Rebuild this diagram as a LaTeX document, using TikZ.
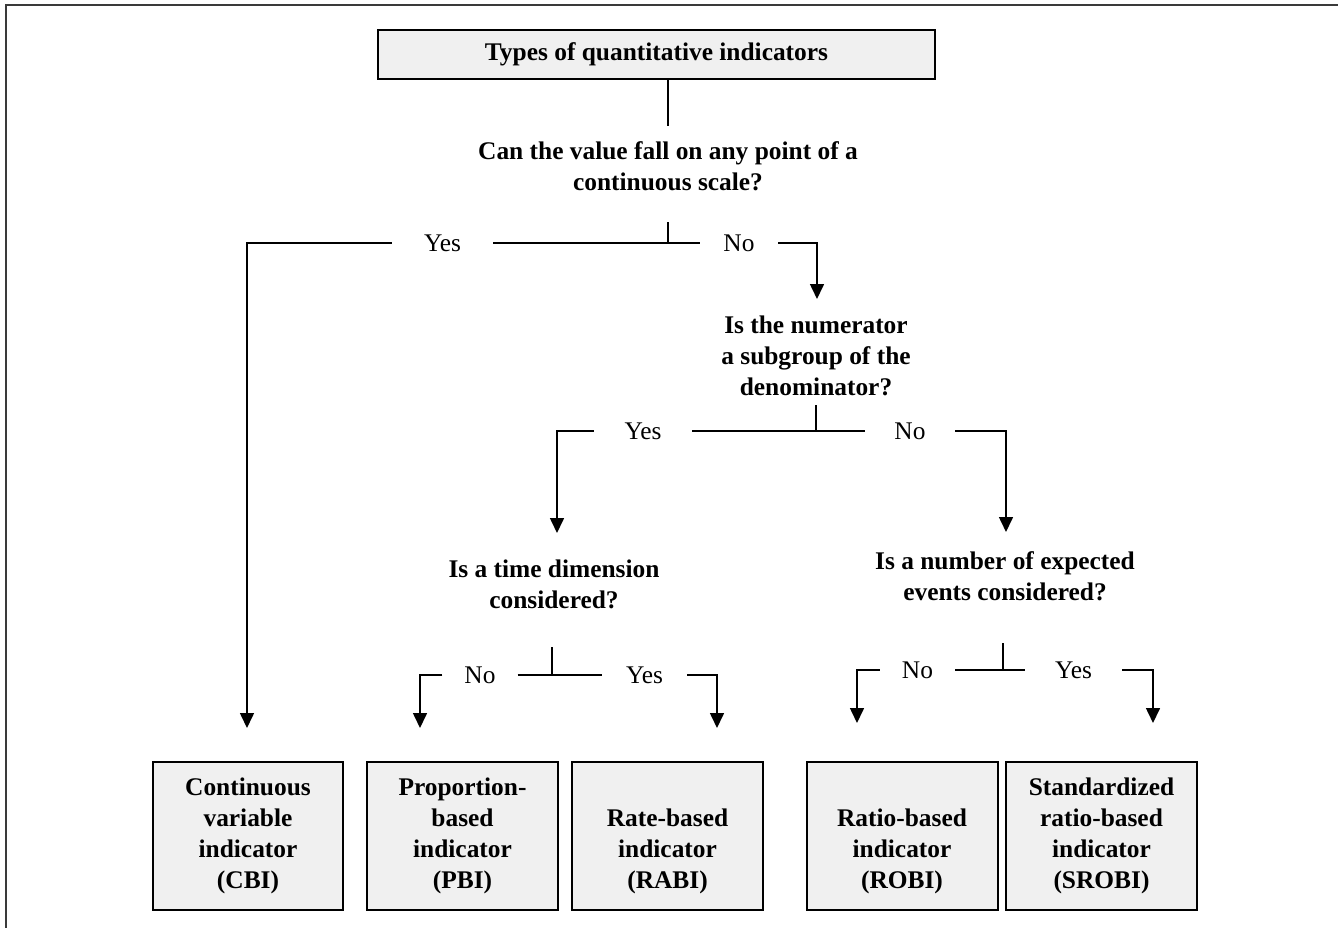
\documentclass[tikz,border=0pt]{standalone}
\usepackage{fontspec}
\setmainfont{Liberation Serif}
\usetikzlibrary{arrows.meta}
\definecolor{boxfill}{HTML}{F0F0F0}
\definecolor{frameline}{HTML}{3A3A3A}
\begin{document}
\begin{tikzpicture}[x=1pt,y=-1pt,
  font=\fontsize{25.4}{31}\selectfont,
  conn/.style={line width=1.6pt},
  arr/.style={conn,-{Triangle[width=14pt,length=15pt]}},
  box/.style={draw,line width=2pt,fill=boxfill,inner sep=0pt,align=center,
    minimum width=191pt,minimum height=148pt,font=\bfseries\fontsize{25.4}{31}\selectfont},
  quest/.style={align=center,inner sep=0pt,font=\bfseries\fontsize{25.4}{31}\selectfont},
  lbl/.style={inner sep=0pt,minimum height=20pt}]
\useasboundingbox (0,0) rectangle (1338,928);
\fill[white] (0,0) rectangle (1338,928);
\draw[frameline,line width=2pt] (5.5,928) -- (5.5,5.5) -- (1338,5.5);

% boxes
\node[box,minimum width=557pt,minimum height=49pt] (top) at (656.5,54.5) {Types of quantitative indicators};
\node[box,minimum width=190pt] (cbi) at (248,836) {Continuous\\variable\\indicator\\(CBI)};
\node[box] (pbi) at (462.5,836) {Proportion-\\based\\indicator\\(PBI)};
\node[box] (rabi) at (667.5,836) {\vphantom{Cd}\\Rate-based\\indicator\\(RABI)};
\node[box] (robi) at (902,836) {\vphantom{Cd}\\Ratio-based\\indicator\\(ROBI)};
\node[box] (srobi) at (1101.5,836) {Standardized\\ratio-based\\indicator\\(SROBI)};

% questions
\node[quest] (q1) at (668,166) {Can the value fall on any point of a\\continuous scale?};
\node[quest] (q2) at (816,356) {Is the numerator\\a subgroup of the\\denominator?};
\node[quest] (q3) at (554,584) {Is a time dimension\\considered?};
\node[quest] (q4) at (1005,576) {Is a number of expected\\events considered?};

% labels
\node[lbl,minimum width=101pt] (y1) at (442.5,243) {Yes};
\node[lbl,minimum width=78pt] (n1) at (739,243) {No};
\node[lbl,minimum width=98pt] (y2) at (643,431) {Yes};
\node[lbl,minimum width=90pt] (n2) at (910,431) {No};
\node[lbl,minimum width=75pt] (n3) at (480,675) {No};
\node[lbl,minimum width=85pt] (y3) at (644.5,675) {Yes};
\node[lbl,minimum width=75pt] (n4) at (917.5,670) {No};
\node[lbl,minimum width=97pt] (y4) at (1073.5,670) {Yes};

% junction coordinates
\coordinate (q1top) at (668,126);
\coordinate (q1bot) at (668,222);
\coordinate (j1) at (668,243);
\coordinate (q2tip) at (817,299);
\coordinate (cbitip) at (247,728);
\coordinate (q2bot) at (816,405);
\coordinate (j2) at (816,431);
\coordinate (q3tip) at (557,533);
\coordinate (q4tip) at (1006,532);
\coordinate (q3bot) at (552,647);
\coordinate (j3) at (552,675);
\coordinate (pbitip) at (420,728);
\coordinate (rabitip) at (717,728);
\coordinate (q4bot) at (1003,643);
\coordinate (j4) at (1003,670);
\coordinate (robitip) at (857,723);
\coordinate (srobitip) at (1153,723);

% connectors
\draw[conn] (q1top |- top.south) -- (q1top);
\draw[conn] (q1bot) -- (j1);
\draw[conn] (y1.east) -- (j1) -- (n1.west);
\draw[arr] (y1.west) -| (cbitip);
\draw[arr] (n1.east) -| (q2tip);

\draw[conn] (q2bot) -- (j2);
\draw[conn] (y2.east) -- (j2) -- (n2.west);
\draw[arr] (y2.west) -| (q3tip);
\draw[arr] (n2.east) -| (q4tip);

\draw[conn] (q3bot) -- (j3);
\draw[conn] (n3.east) -- (j3) -- (y3.west);
\draw[arr] (n3.west) -| (pbitip);
\draw[arr] (y3.east) -| (rabitip);

\draw[conn] (q4bot) -- (j4);
\draw[conn] (n4.east) -- (j4) -- (y4.west);
\draw[arr] (n4.west) -| (robitip);
\draw[arr] (y4.east) -| (srobitip);
\end{tikzpicture}
\end{document}
